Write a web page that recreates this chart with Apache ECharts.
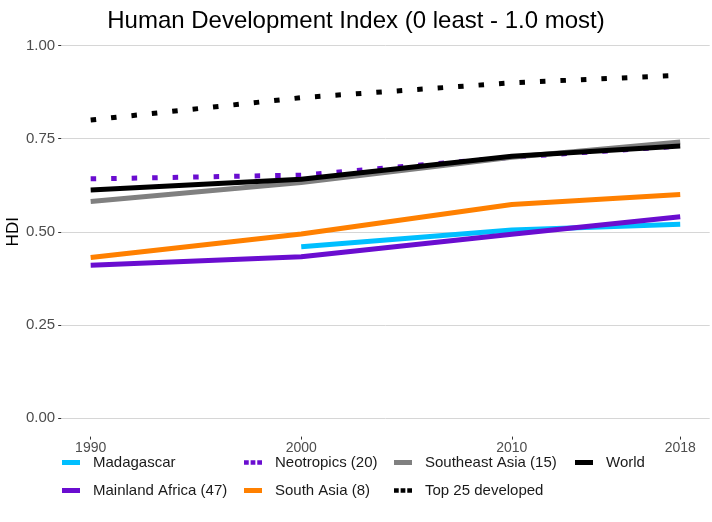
<!DOCTYPE html>
<html>
<head>
<meta charset="utf-8">
<script src="https://cdn.jsdelivr.net/npm/echarts@6/dist/echarts.min.js"></script>
<style>html,body{margin:0;padding:0;background:#fff}#c{width:712px;height:522px}</style>
</head>
<body>
<div id="c"></div>
<script>
const years = [1990, 2000, 2010, 2018];
const tickYears = [1990, 2000, 2010, 2018];
const yTicks = [0, 0.25, 0.5, 0.75, 1.0];
const seriesNames = ["Madagascar", "Mainland Africa (47)", "Neotropics (20)", "South Asia (8)", "Southeast Asia (15)", "Top 25 developed", "World"];
const madagascar = [null, 0.46, 0.505, 0.52];
const mainlandAfrica = [0.41, 0.433, 0.493, 0.54];
const neotropics = [0.642, 0.652, 0.70, 0.73];
const southAsia = [0.431, 0.494, 0.573, 0.60];
const southeastAsia = [0.581, 0.632, 0.70, 0.741];
const top25 = [0.80, 0.86, 0.90, 0.92];
const world = [0.612, 0.641, 0.703, 0.73];

const valuesList = [madagascar, mainlandAfrica, neotropics, southAsia, southeastAsia, top25, world];
const colors = ["#00BFFF", "#6A0DD0", "#6A0DD0", "#FF8000", "#808080", "#000000", "#000000"];
const dotted = [false, false, true, false, false, true, false];

const FONT = "'Liberation Sans', Arial, sans-serif";
const solidIcon = 'rect';
const dotIcon = 'path://M0,0h5v5h-5zM7,0h5v5h-5zM14,0h5v5h-5z';

const series = seriesNames.map((name, i) => ({
  name: name,
  type: 'line',
  showSymbol: false,
  symbol: 'none',
  connectNulls: false,
  data: years.map((yr, j) => [yr, valuesList[i][j]]),
  lineStyle: { color: colors[i], width: 5, type: dotted[i] ? [5.5, 15] : 'solid', cap: 'butt' },
  itemStyle: { color: colors[i] },
  emphasis: { disabled: true },
  animation: false
}));

const legendPos = [
  { left: 62, top: 455 }, { left: 62, top: 483 },
  { left: 244, top: 455 }, { left: 244, top: 483 },
  { left: 394, top: 455 }, { left: 394, top: 483 },
  { left: 575, top: 455 }
];
const legends = seriesNames.map((name, i) => ({
  data: [{ name: name, icon: dotted[i] ? dotIcon : solidIcon }],
  left: legendPos[i].left,
  top: legendPos[i].top,
  orient: 'horizontal',
  itemWidth: 18,
  itemHeight: 5,
  padding: 0,
  selectedMode: false,
  textStyle: { fontFamily: FONT, fontSize: 15, color: '#1a1a1a', padding: [0, 0, 0, 8] }
}));

const chart = echarts.init(document.getElementById('c'), null, { renderer: 'canvas' });
chart.setOption({
  backgroundColor: '#ffffff',
  animation: false,
  title: {
    text: 'Human Development Index (0 least - 1.0 most)',
    left: 'center',
    top: 4,
    textStyle: { fontFamily: FONT, fontSize: 24, fontWeight: 'normal', color: '#000' }
  },
  legend: legends,
  grid: { left: 61.2, right: 2.3, top: 26.9, bottom: 85.4, containLabel: false, outerBoundsMode: 'none' },
  xAxis: {
    type: 'value',
    min: 1988.6,
    max: 2019.4,
    axisLine: { show: false, onZero: false },
    axisTick: { show: true, length: 3, customValues: tickYears, lineStyle: { color: '#333' } },
    axisLabel: { customValues: tickYears, margin: 5, fontFamily: FONT, fontSize: 14, color: '#4d4d4d', formatter: v => String(v) },
    splitLine: { show: false }
  },
  yAxis: {
    type: 'value',
    min: -0.05,
    max: 1.05,
    name: 'HDI',
    nameLocation: 'middle',
    nameGap: 39,
    nameMoveOverlap: false,
    nameTextStyle: { fontFamily: FONT, fontSize: 17, color: '#000' },
    axisLine: { show: false, onZero: false },
    axisTick: { show: true, length: 3, customValues: yTicks, lineStyle: { color: '#333' } },
    axisLabel: { customValues: yTicks, margin: 6, fontFamily: FONT, fontSize: 15, color: '#4d4d4d', formatter: v => v.toFixed(2) },
    splitLine: { show: true, lineStyle: { color: '#d6d6d6', width: 1 } }
  },
  series: series
});
</script>
</body>
</html>
